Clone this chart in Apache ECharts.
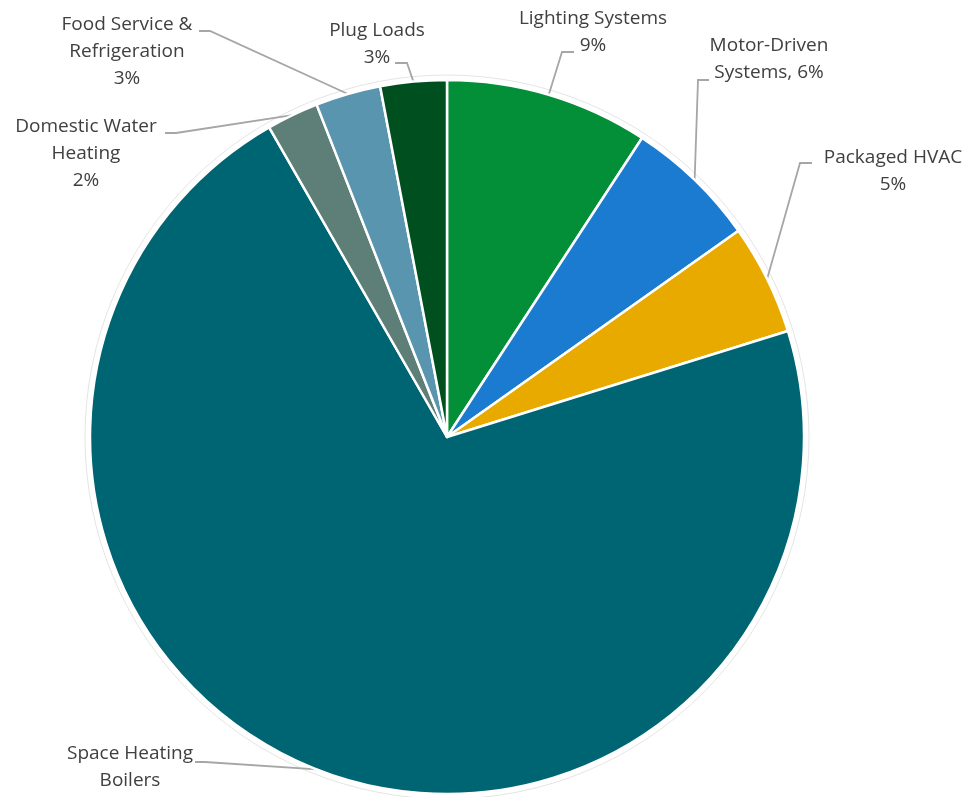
<!DOCTYPE html>
<html>
<head>
<meta charset="utf-8">
<script src="https://cdn.jsdelivr.net/npm/echarts@6/dist/echarts.min.js"></script>
<style>
  html, body { margin: 0; padding: 0; background: #ffffff; }
  #chart { width: 972px; height: 797px; }
</style>
</head>
<body>
<div id="chart"></div>
<script>
// ---- data ----
const categories = ['Lighting Systems', 'Motor-Driven Systems', 'Packaged HVAC', 'Space Heating Boilers',
  'Domestic Water Heating', 'Food Service & Refrigeration', 'Plug Loads'];
const values = [9.2, 6.0, 5.0, 71.5, 2.35, 2.95, 3.0];
const labelTemplates = ['Lighting Systems\n{p}%', 'Motor-Driven\nSystems, {p}%', 'Packaged HVAC\n{p}%',
  'Space Heating\nBoilers', 'Domestic Water\nHeating\n{p}%', 'Food Service &\nRefrigeration\n{p}%', 'Plug Loads\n{p}%'];

// ---- styles ----
const colors = ['#038f37', '#1a7bd1', '#e9aa00', '#006573', '#5e7f78', '#5a95b0', '#00501f'];
// label centre positions and leader-line attachment (bend, end) in pixels
const labelCenters = [[593, 32], [769, 59], [893, 171], [130, 767], [86, 154], [127, 52], [377, 44]];
const leaderBends = [[[562, 52], [574, 52]], [[698, 80], [709, 80]], [[800, 163], [812, 163]],
  [[205, 762], [195, 762]], [[176, 133], [165, 133]], [[210, 31], [199, 31]], [[407, 63], [395, 63]]];

const chart = echarts.init(document.getElementById('chart'), null, { renderer: 'canvas' });
const center = [447, 437];
const radius = 357;

chart.setOption({
  animation: false,
  series: [
    {
      type: 'pie',
      silent: true,
      center: center,
      radius: radius + 5,
      startAngle: 90,
      label: { show: false },
      labelLine: { show: false },
      itemStyle: { color: '#ffffff', borderColor: '#e4e4e4', borderWidth: 1 },
      data: [{ value: 1, name: 'outline' }],
      z: 0
    },
    {
      type: 'pie',
      center: center,
      radius: radius,
      startAngle: 90,
      clockwise: true,
      avoidLabelOverlap: false,
      itemStyle: { borderColor: '#ffffff', borderWidth: 2.5 },
      label: {
        show: true,
        position: 'outside',
        fontFamily: 'Open Sans',
        fontSize: 19,
        lineHeight: 27,
        color: '#404040',
        align: 'center',
        formatter: function (p) {
          return labelTemplates[p.dataIndex].replace('{p}', Math.round(p.percent));
        }
      },
      labelLine: {
        show: true,
        lineStyle: { color: '#a6a6a6', width: 1.8 }
      },
      labelLayout: function (params) {
        const i = params.dataIndex;
        const anchor = params.labelLinePoints ? params.labelLinePoints[0] : null;
        const out = {
          x: labelCenters[i][0],
          y: labelCenters[i][1],
          align: 'center',
          verticalAlign: 'middle'
        };
        if (anchor) {
          out.labelLinePoints = [anchor, leaderBends[i][0], leaderBends[i][1]];
        }
        return out;
      },
      data: categories.map(function (c, i) {
        return { name: c, value: values[i], itemStyle: { color: colors[i] } };
      }),
      z: 2
    }
  ]
});
</script>
</body>
</html>
